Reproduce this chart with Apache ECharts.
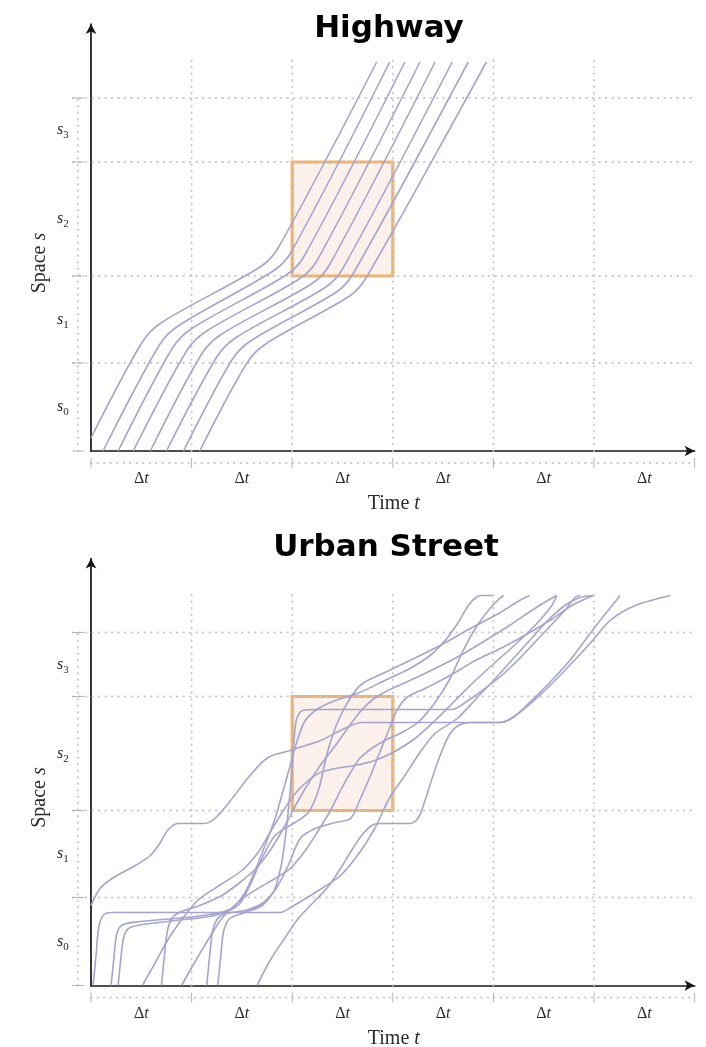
<!DOCTYPE html>
<html>
<head>
<meta charset="utf-8">
<script src="https://cdn.jsdelivr.net/npm/echarts@6/dist/echarts.min.js"></script>
<style>html,body{margin:0;padding:0;background:#fff}#c{width:706px;height:1047px}</style>
</head>
<body>
<div id="c"></div>
<script>
// ================= DATA =================
const panelTitles = ['Highway', 'Urban Street'];
const timeBounds = [0, 100, 200, 300, 400, 500, 600];   // Δt boundaries (time units)
const spaceBounds = [0, 88, 175, 289, 353];              // road section boundaries
const timeTickLabel = ['Δ', 't'];
const spaceTickLabels = ['0', '1', '2', '3'];            // subscripts of s
const xAxisTitle = ['Time ', 't'];
const yAxisTitle = ['Space ', 's'];
const highlightBox = [[200, 175], [300, 289]];

// Highway trajectories [t, s]
const hw0 = [[0,13],[51,109],[71,129],[168,184],[186,203],[284,389]];
const hw1 = [[12,0],[68,106],[88,126],[181,180],[199,199],[297,389]];
const hw2 = [[27,0],[81,103],[101,123],[194,176],[212,195],[312,389]];
const hw3 = [[42,0],[95,100],[115,120],[207,172],[225,191],[327,389]];
const hw4 = [[59,0],[110,97],[130,117],[219,167],[237,186],[342,389]];
const hw5 = [[75,0],[125,94],[145,114],[232,163],[250,182],[359,389]];
const hw6 = [[92,0],[140,91],[160,111],[244,159],[261,178],[375,389]];
const hw7 = [[108,0],[155,88],[175,108],[257,155],[274,174],[393,389]];
const highwayTrajectories = [hw0, hw1, hw2, hw3, hw4, hw5, hw6, hw7];

// Urban street trajectories [t, s]
const ur0 = [[0,80],[9,97],[21,107],[44,120],[59,130],[69,143],[76,155],[86,162],[113,162],[123,167],[138,184],[158,210],[176,228],[198,235],[228,245],[252,257],[269,263],[407,263],[426,273],[451,295],[471,315],[496,342],[516,365],[541,380],[576,390]];
const ur1 = [[2,0],[5,30],[8,60],[13,71],[21,73],[188,73],[200,79],[223,93],[248,110],[267,133],[282,157],[297,188],[312,210],[327,233],[342,252],[364,267],[384,288],[402,307],[418,325],[436,345],[454,365],[471,380],[486,388],[499,390]];
const ur2 = [[20,0],[23,30],[26,53],[32,61],[49,64],[83,67],[118,71],[140,77],[153,93],[163,115],[173,140],[183,167],[191,195],[198,220],[205,245],[213,265],[226,277],[243,285],[267,293],[292,305],[317,317],[337,330],[352,345],[365,363],[375,380],[384,389],[390,390],[399,390]];
const ur3 = [[27,0],[30,30],[33,50],[39,58],[59,62],[93,66],[123,70],[146,80],[158,100],[168,123],[183,150],[203,163],[216,173],[226,195],[235,233],[245,263],[258,288],[270,302],[292,313],[317,325],[347,340],[377,357],[407,373],[426,385],[436,390]];
const ur4 = [[51,0],[64,23],[76,45],[88,63],[106,85],[129,101],[150,115],[166,133],[178,153],[190,173],[203,192],[216,205],[228,213],[243,217],[262,220],[282,225],[300,233],[322,247],[342,265],[362,285],[382,305],[404,325],[426,345],[446,365],[458,380],[463,390]];
const ur5 = [[70,0],[73,30],[76,55],[81,68],[90,74],[108,80],[130,90],[148,103],[164,117],[178,135],[193,160],[206,185],[218,205],[230,223],[243,240],[255,257],[267,273],[279,285],[295,295],[317,305],[342,317],[367,330],[392,345],[416,360],[438,375],[454,385],[463,390]];
const ur6 = [[90,0],[103,23],[116,45],[130,67],[148,85],[166,97],[183,107],[198,117],[213,135],[226,155],[238,175],[248,195],[258,213],[267,227],[279,237],[292,245],[307,252],[325,263],[342,283],[357,307],[369,333],[382,357],[395,375],[405,386],[410,390]];
const ur7 = [[126,0],[129,30],[132,55],[138,67],[153,73],[170,80],[182,95],[189,120],[194,155],[198,195],[201,235],[204,265],[210,275],[223,276],[359,276],[372,283],[389,295],[407,309],[424,325],[441,343],[458,361],[471,375],[481,388],[486,390]];
const ur8 = [[115,0],[118,30],[121,55],[126,67],[134,72],[153,75],[170,82],[184,97],[196,120],[208,147],[223,157],[243,163],[258,167],[267,185],[277,208],[287,233],[297,258],[304,275],[314,288],[332,297],[357,310],[382,325],[407,337],[431,350],[456,365],[478,380],[499,390]];
const ur9 = [[165,0],[178,25],[193,48],[206,67],[220,82],[235,98],[248,117],[259,135],[269,150],[279,160],[287,162],[317,162],[325,167],[332,185],[340,210],[349,235],[357,252],[365,260],[377,263],[407,263],[421,269],[438,285],[456,303],[476,325],[491,345],[506,365],[518,380],[526,390]];
const urbanTrajectories = [ur0, ur1, ur2, ur3, ur4, ur5, ur6, ur7, ur8, ur9];

const panels = [highwayTrajectories, urbanTrajectories];

// ================= STYLE / LAYOUT =================
const SPACE_MAX = 427, TIME_MAX = 600, GRID_LINE_TOP = 396;
const gridTops = [24, 558.5];
const titleCenters = [384, 381];
const titleTops = [8, 527];
const LINE_COLOR = '#a4a4cf';
const GRID_COLOR = '#c6c6c6';
const AXIS_COLOR = '#151515';
const TEXT_COLOR = '#2a2a2a';
const SERIF = 'Liberation Serif';

const chart = echarts.init(document.getElementById('c'), null, {renderer: 'canvas', width: 706, height: 1047});

const isMid = v => timeBounds.some((b, i) => i > 0 && (b + timeBounds[i - 1]) / 2 === v);

const series = [];
panels.forEach((trajs, g) => {
  trajs.forEach(d => series.push({
    type: 'line', xAxisIndex: g, yAxisIndex: g, data: d, smooth: 0.3,
    symbol: 'none', silent: true, z: 3,
    lineStyle: {color: LINE_COLOR, width: 1.6}
  }));
  series.push({
    type: 'line', xAxisIndex: g, yAxisIndex: g, data: [], symbol: 'none', silent: true, z: 6,
    markArea: {
      silent: true,
      itemStyle: {color: 'rgba(236,160,128,0.16)', borderColor: '#f4b062', borderWidth: 3.2},
      data: [[{coord: highlightBox[0]}, {coord: highlightBox[1]}]]
    }
  });
});

const option = {
  animation: false,
  backgroundColor: '#ffffff',
  title: panelTitles.map((t, i) => ({
    text: t, left: titleCenters[i], top: titleTops[i], textAlign: 'center',
    textStyle: {fontFamily: 'DejaVu Sans', fontWeight: 'bold', fontSize: 31, color: '#000'}
  })),
  grid: gridTops.map(top => ({left: 91, width: 603.6, top: top, height: SPACE_MAX, containLabel: false, outerBoundsMode: 'none'})),
  xAxis: gridTops.map((_, i) => ({
    gridIndex: i, type: 'value', min: 0, max: TIME_MAX, interval: 50,
    axisLine: {show: true, onZero: false, symbol: ['none', 'arrow'], symbolSize: [8, 10], lineStyle: {color: AXIS_COLOR, width: 1.7}},
    axisTick: {show: false}, splitLine: {show: false},
    axisLabel: {
      margin: 20, hideOverlap: false, showMinLabel: true, showMaxLabel: true,
      formatter: v => isMid(v) ? '{d|' + timeTickLabel[0] + '}{t|' + timeTickLabel[1] + '}' : '',
      rich: {
        d: {fontFamily: SERIF, fontSize: 16, color: TEXT_COLOR},
        t: {fontFamily: SERIF, fontStyle: 'italic', fontSize: 16, color: TEXT_COLOR}
      }
    }
  })),
  yAxis: gridTops.map((_, i) => ({
    gridIndex: i, type: 'value', min: 0, max: SPACE_MAX,
    axisLine: {show: true, onZero: false, symbol: ['none', 'arrow'], symbolSize: [8, 10], lineStyle: {color: AXIS_COLOR, width: 1.7}},
    axisTick: {show: false}, splitLine: {show: false}, axisLabel: {show: false}
  })),
  series: series
};
chart.setOption(option);

// ================= DECORATIONS (computed through the axes) =================
const graphics = [];
const dotted = {stroke: GRID_COLOR, lineWidth: 1.8, lineDash: [0.5, 6], lineCap: 'round'};
const tickStyle = {stroke: '#b5b5b5', lineWidth: 1};
function seg(p, a, b, style) {
  const A = chart.convertToPixel({gridIndex: p}, a);
  const B = chart.convertToPixel({gridIndex: p}, b);
  graphics.push({type: 'line', silent: true, z: 1, shape: {x1: A[0], y1: A[1], x2: B[0], y2: B[1]}, style: style});
}
function txt(p, at, text, rich, rotation) {
  const P = chart.convertToPixel({gridIndex: p}, at);
  graphics.push({type: 'text', silent: true, z: 2, x: P[0], y: P[1], rotation: rotation || 0,
    style: {text: text, rich: rich, align: 'center', verticalAlign: 'middle', textAlign: 'center', textVerticalAlign: 'middle', fill: TEXT_COLOR}});
}
const sRich = {
  s: {fontFamily: SERIF, fontStyle: 'italic', fontSize: 16, lineHeight: 22, verticalAlign: 'middle', color: TEXT_COLOR},
  n: {fontFamily: SERIF, fontSize: 11, lineHeight: 11, verticalAlign: 'bottom', color: TEXT_COLOR}
};
const titleRich = {
  a: {fontFamily: SERIF, fontSize: 20, color: TEXT_COLOR},
  b: {fontFamily: SERIF, fontStyle: 'italic', fontSize: 20, color: TEXT_COLOR}
};
for (let p = 0; p < 2; p++) {
  // vertical dotted grid lines
  timeBounds.slice(1, -1).forEach(t => seg(p, [t, 0], [t, GRID_LINE_TOP], dotted));
  // horizontal dotted grid lines (extend left of the axis)
  spaceBounds.slice(1).forEach(s => seg(p, [-18, s], [TIME_MAX, s], dotted));
  // left dimension line
  seg(p, [-13, 0], [-13, spaceBounds[spaceBounds.length - 1]], dotted);
  spaceBounds.forEach(s => seg(p, [-19, s], [-7, s], tickStyle));
  // bottom dimension line
  seg(p, [0, -12], [TIME_MAX, -12], dotted);
  timeBounds.forEach(t => seg(p, [t, -7], [t, -17], tickStyle));
  // space tick labels s_i centred in each section
  spaceTickLabels.forEach((lab, i) => {
    txt(p, [-28, (spaceBounds[i] + spaceBounds[i + 1]) / 2], '{s|s}{n|' + lab + '}', sRich);
  });
  // axis titles
  txt(p, [301, -53], '{a|' + xAxisTitle[0] + '}{b|' + xAxisTitle[1] + '}', titleRich);
  txt(p, [-51, 188], '{a|' + yAxisTitle[0] + '}{b|' + yAxisTitle[1] + '}', titleRich, Math.PI / 2);
}
chart.setOption({graphic: {elements: graphics}});
</script>
</body>
</html>
